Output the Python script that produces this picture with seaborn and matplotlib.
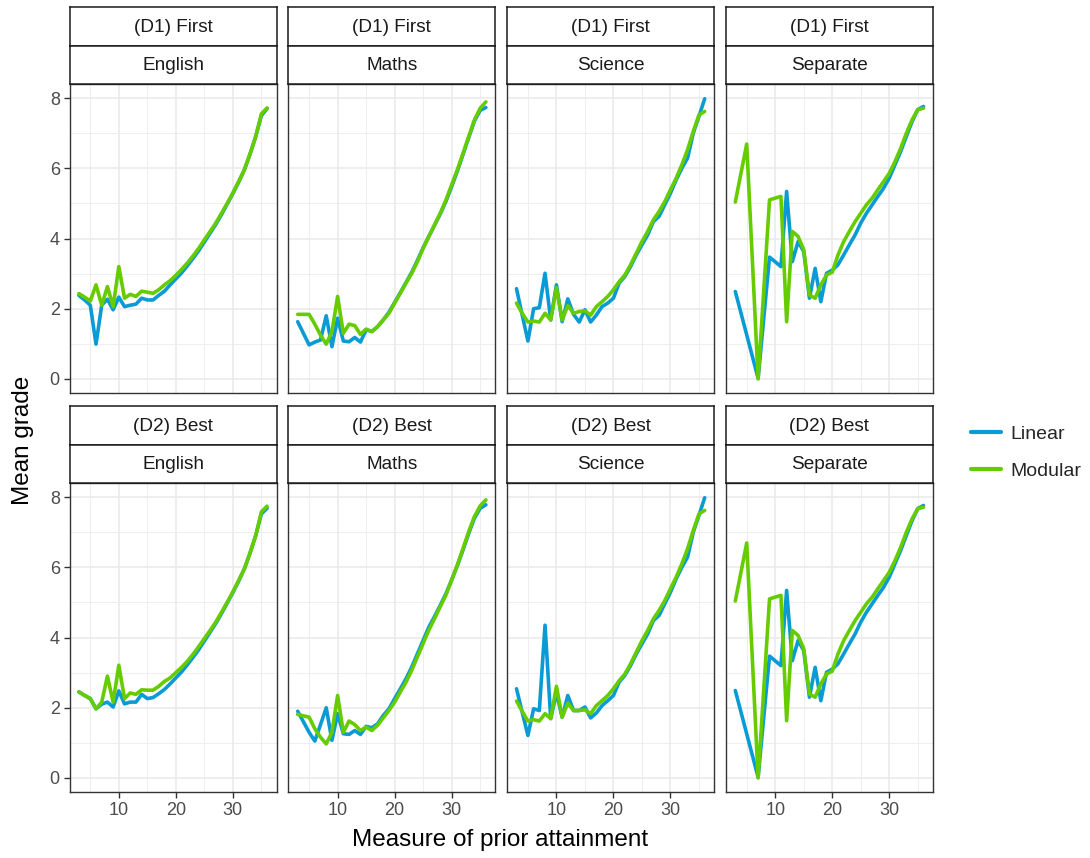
import numpy as np
import pandas as pd
import matplotlib
matplotlib.use("Agg")
import matplotlib.pyplot as plt
from matplotlib.lines import Line2D
import seaborn as sns

sns.set_theme(style="white")
plt.rcParams['font.family'] = ['Liberation Sans', 'DejaVu Sans']

prior = list(range(3, 37))
N = np.nan

english_d1_linear = [2.38, 2.25, 2.1, 0.99, 2.1, 2.27, 1.97, 2.33, 2.06, 2.1, 2.13, 2.3, 2.25, 2.25, 2.38, 2.5, 2.68,
                     2.85, 3.02, 3.22, 3.43, 3.65, 3.9, 4.15, 4.4, 4.68, 4.98, 5.28, 5.6, 5.95, 6.4, 6.9, 7.5, 7.7]
english_d1_modular = [2.43, 2.33, 2.22, 2.68, 2.1, 2.63, 2.06, 3.2, 2.3, 2.41, 2.35, 2.5, 2.47, 2.44, 2.54, 2.68, 2.8,
                      2.95, 3.12, 3.3, 3.5, 3.72, 3.96, 4.2, 4.44, 4.72, 5.0, 5.3, 5.62, 5.95, 6.4, 6.9, 7.55, 7.72]
maths_d1_linear = [1.63, 1.3, 0.97, 1.05, 1.11, 1.8, 0.92, 1.73, 1.08, 1.06, 1.18, 1.05, 1.4, 1.35, 1.49, 1.68, 1.9,
                   2.18, 2.46, 2.75, 3.04, 3.38, 3.74, 4.06, 4.38, 4.7, 5.06, 5.48, 5.92, 6.4, 6.88, 7.35, 7.65, 7.73]
maths_d1_modular = [1.84, 1.84, 1.84, 1.56, 1.25, 0.99, 1.35, 2.35, 1.3, 1.56, 1.52, 1.27, 1.42, 1.35, 1.49, 1.68, 1.87,
                    2.16, 2.44, 2.73, 3.01, 3.34, 3.72, 4.06, 4.39, 4.72, 5.1, 5.53, 5.96, 6.43, 6.91, 7.38, 7.71, 7.89]
science_d1_linear = [2.57, 1.82, 1.08, 2.0, 2.03, 3.01, 1.68, 2.68, 1.63, 2.28, 1.84, 1.62, 1.97, 1.62, 1.82, 2.06, 2.16,
                     2.3, 2.73, 2.92, 3.2, 3.53, 3.82, 4.1, 4.48, 4.63, 4.96, 5.29, 5.67, 6.0, 6.29, 7.0, 7.48, 7.98]
science_d1_modular = [2.16, 1.87, 1.62, 1.65, 1.62, 1.87, 1.68, 2.6, 1.68, 2.09, 1.87, 1.92, 1.94, 1.82, 2.06, 2.2, 2.35,
                      2.54, 2.77, 2.96, 3.25, 3.58, 3.91, 4.2, 4.53, 4.77, 5.05, 5.39, 5.72, 6.1, 6.53, 7.05, 7.52, 7.62]
separate_d1_linear = [2.49, N, N, N, 0.02, N, 3.47, N, 3.2, 5.34, 3.34, 3.91, 3.63, 2.3, 3.15, 2.2, 3.01,
                      3.1, 3.25, 3.53, 3.82, 4.1, 4.44, 4.72, 4.96, 5.2, 5.43, 5.72, 6.1, 6.48, 6.91, 7.33, 7.67, 7.76]
separate_d1_modular = [5.04, N, 6.69, N, 0.0, N, 5.1, N, 5.2, 1.63, 4.2, 4.06, 3.68, 2.39, 2.3, 2.68, 2.96,
                       3.04, 3.53, 3.91, 4.2, 4.48, 4.72, 4.96, 5.15, 5.39, 5.62, 5.86, 6.19, 6.57, 7.0, 7.38, 7.67, 7.71]

english_d2_linear = [2.45, 2.35, 2.26, 1.97, 2.1, 2.16, 2.02, 2.48, 2.11, 2.16, 2.16, 2.38, 2.26, 2.29, 2.4, 2.52, 2.68,
                     2.85, 3.02, 3.22, 3.43, 3.65, 3.9, 4.15, 4.4, 4.68, 4.98, 5.28, 5.6, 5.95, 6.4, 6.9, 7.52, 7.68]
english_d2_modular = [2.45, 2.35, 2.26, 1.97, 2.16, 2.9, 2.16, 3.21, 2.26, 2.42, 2.38, 2.51, 2.5, 2.5, 2.61, 2.75, 2.85,
                      3.0, 3.15, 3.32, 3.52, 3.74, 3.97, 4.2, 4.44, 4.72, 5.0, 5.3, 5.62, 5.95, 6.4, 6.9, 7.58, 7.74]
maths_d2_linear = [1.9, 1.6, 1.3, 1.05, 1.52, 2.0, 1.07, 1.83, 1.26, 1.24, 1.35, 1.24, 1.47, 1.43, 1.54, 1.78, 1.97,
                   2.26, 2.54, 2.83, 3.16, 3.54, 3.92, 4.3, 4.6, 4.92, 5.25, 5.64, 6.05, 6.5, 6.97, 7.4, 7.68, 7.78]
maths_d2_modular = [1.81, 1.77, 1.73, 1.4, 1.16, 0.97, 1.3, 2.35, 1.3, 1.62, 1.52, 1.35, 1.45, 1.35, 1.5, 1.71, 1.92,
                    2.16, 2.45, 2.73, 3.07, 3.45, 3.83, 4.21, 4.54, 4.88, 5.21, 5.64, 6.07, 6.54, 7.02, 7.45, 7.75, 7.92]
science_d2_linear = [2.54, 1.87, 1.21, 1.97, 1.92, 4.35, 1.69, 2.42, 1.73, 2.35, 1.92, 1.92, 2.02, 1.71, 1.85, 2.06, 2.2,
                     2.35, 2.73, 2.92, 3.2, 3.53, 3.82, 4.1, 4.48, 4.63, 4.96, 5.29, 5.67, 6.0, 6.29, 7.0, 7.48, 7.98]
science_d2_modular = [2.19, 1.9, 1.62, 1.66, 1.62, 1.83, 1.69, 2.61, 1.73, 2.13, 1.92, 1.92, 1.94, 1.83, 2.06, 2.2, 2.35,
                      2.54, 2.77, 2.96, 3.25, 3.58, 3.91, 4.2, 4.53, 4.77, 5.05, 5.39, 5.72, 6.1, 6.53, 7.05, 7.52, 7.62]
separate_d2_linear = [2.49, N, N, N, 0.02, N, 3.47, N, 3.2, 5.34, 3.34, 3.91, 3.63, 2.3, 3.15, 2.2, 3.01,
                      3.1, 3.25, 3.53, 3.82, 4.1, 4.44, 4.72, 4.96, 5.2, 5.43, 5.72, 6.1, 6.48, 6.91, 7.33, 7.67, 7.76]
separate_d2_modular = [5.04, N, 6.69, N, 0.0, N, 5.1, N, 5.2, 1.63, 4.2, 4.06, 3.68, 2.39, 2.3, 2.68, 2.96,
                       3.04, 3.53, 3.91, 4.2, 4.48, 4.72, 4.96, 5.15, 5.39, 5.62, 5.86, 6.19, 6.57, 7.0, 7.38, 7.67, 7.71]

definitions = ["(D1) First", "(D2) Best"]
subjects = ["English", "Maths", "Science", "Separate"]
specs = ["Linear", "Modular"]
colors = ["#0a9bd4", "#66cc00"]

series = {
    ("(D1) First", "English"): (english_d1_linear, english_d1_modular),
    ("(D1) First", "Maths"): (maths_d1_linear, maths_d1_modular),
    ("(D1) First", "Science"): (science_d1_linear, science_d1_modular),
    ("(D1) First", "Separate"): (separate_d1_linear, separate_d1_modular),
    ("(D2) Best", "English"): (english_d2_linear, english_d2_modular),
    ("(D2) Best", "Maths"): (maths_d2_linear, maths_d2_modular),
    ("(D2) Best", "Science"): (science_d2_linear, science_d2_modular),
    ("(D2) Best", "Separate"): (separate_d2_linear, separate_d2_modular),
}

rows = []
for (d, s), vals in series.items():
    for spec, v in zip(specs, vals):
        for x, y in zip(prior, v):
            if not np.isnan(y):
                rows.append({"definition": d, "subject": s, "spec": spec, "prior": x, "grade": y})
df = pd.DataFrame(rows)

W, H = 1090, 858
fig = plt.figure(figsize=(W / 100, H / 100), dpi=100)

col_left = [69.5 + i * 218.8 for i in range(4)]
pw = 207
row_plot_top = [84, 483]
ph = 309
strip_h = 38.5

def fx(px):
    return px / W

def fy(py):
    return 1 - py / H

for r, d in enumerate(definitions):
    for c, s in enumerate(subjects):
        left = col_left[c]
        top = row_plot_top[r]
        ax = fig.add_axes([fx(left), fy(top + ph), pw / W, ph / H])
        sub = df[(df.definition == d) & (df.subject == s)]
        sns.lineplot(data=sub, x="prior", y="grade", hue="spec", hue_order=specs,
                     palette=colors, estimator=None, linewidth=2.6, legend=False, ax=ax)
        ax.set_xlim(1.35, 37.65)
        ax.set_ylim(-0.4, 8.4)
        ax.set_xticks([10, 20, 30])
        ax.set_xticks([5, 15, 25, 35], minor=True)
        ax.set_yticks([0, 2, 4, 6, 8])
        ax.set_yticks([1, 3, 5, 7], minor=True)
        ax.grid(True, which="major", color="#ebebeb", linewidth=1.2)
        ax.grid(True, which="minor", color="#ebebeb", linewidth=0.6)
        ax.set_axisbelow(True)
        for sp in ax.spines.values():
            sp.set_color("#333333")
            sp.set_linewidth(1.0)
        ax.set_xlabel("")
        ax.set_ylabel("")
        ax.tick_params(which="minor", length=0)
        ax.tick_params(axis="both", which="major", length=4, width=1, color="#333333",
                       labelsize=13, labelcolor="#4d4d4d", pad=3)
        ax.tick_params(axis="x", bottom=(r == 1), labelbottom=(r == 1))
        ax.tick_params(axis="y", left=(c == 0), labelleft=(c == 0))
        # strips
        for k, label in enumerate([d, s]):
            sy = top - 2 * strip_h + k * strip_h
            sax = fig.add_axes([fx(left), fy(sy + strip_h), pw / W, strip_h / H])
            sax.set_facecolor("white")
            sax.set_xticks([])
            sax.set_yticks([])
            for sp in sax.spines.values():
                sp.set_color("#1a1a1a")
                sp.set_linewidth(1.1)
            sax.text(0.5, 0.47, label, ha="center", va="center", fontsize=13.7, color="#1a1a1a",
                     transform=sax.transAxes)

fig.text(fx(23), fy(440), "Mean grade", rotation=90, ha="center", va="center", fontsize=17.5, color="black")
fig.text(fx(500), fy(840), "Measure of prior attainment", ha="center", va="center", fontsize=17.5, color="black")

handles = [Line2D([0], [0], color=colors[i], linewidth=3.0) for i in range(2)]
fig.legend(handles, specs, loc="upper left", bbox_to_anchor=(fx(971), fy(425)), frameon=False,
           fontsize=14, handlelength=1.55, handletextpad=0.5, labelspacing=1.0,
           borderpad=0, borderaxespad=0)

fig.savefig("out.png", dpi=100, facecolor="white")
